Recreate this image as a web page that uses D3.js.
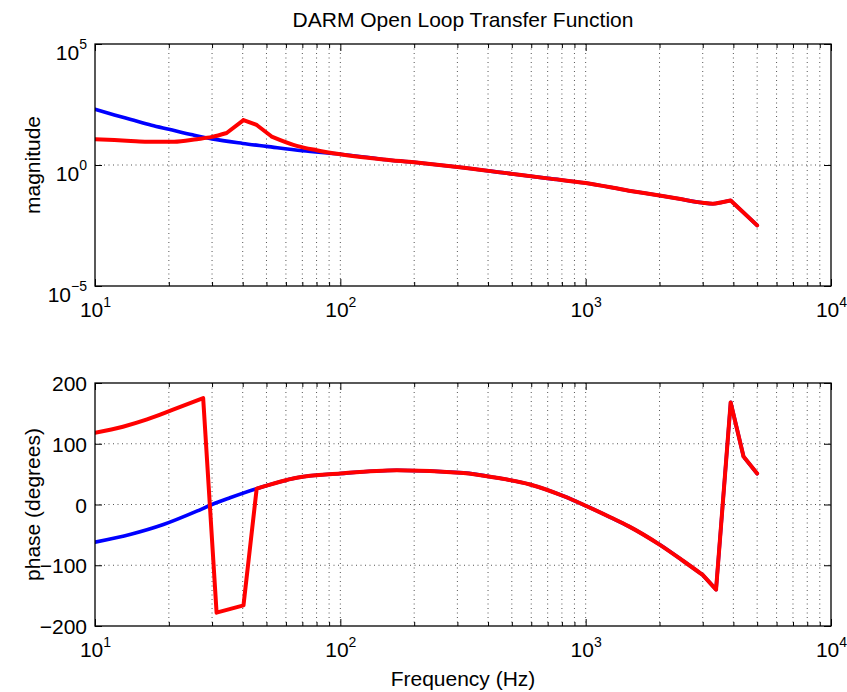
<!DOCTYPE html>
<html>
<head>
<meta charset="utf-8">
<script src="https://cdn.jsdelivr.net/npm/d3@7/dist/d3.min.js"></script>
<style>
  html, body { margin: 0; padding: 0; background: #fff; }
  svg { display: block; }
  text { font-family: "Liberation Sans", Arial, Helvetica, sans-serif; fill: #000; }
</style>
</head>
<body>
<svg id="chart" width="847" height="692"></svg>
<script>
// ---------------- DATA ----------------
const title = "DARM Open Loop Transfer Function";
const xLabel = "Frequency (Hz)";
const magLabel = "magnitude";
const phaseLabel = "phase (degrees)";

const xDecades = [10, 100, 1000, 10000];
const magTicks = [1e-5, 1e0, 1e5];
const phaseTicks = [-200, -100, 0, 100, 200];

// blue: model open loop
const blueMagFreq = [10, 12, 14, 17, 20, 25, 30, 40, 50, 70, 100, 150, 200, 300, 500, 700, 1000, 1500, 2000, 2400, 3000, 3300, 3600, 3900, 5000];
const blueMag     = [200, 117, 76, 44, 30, 17.7, 12, 7.8, 5.9, 3.9, 2.8, 1.7, 1.29, 0.83, 0.43, 0.28, 0.18, 0.087, 0.055, 0.040, 0.0275, 0.025, 0.029, 0.034, 0.0032];
const blueMagKinks = [3900];

// red: with resonance
const redMagFreq = [10, 12, 14, 16.3, 18.4, 21, 26, 30, 34.4, 40.3, 45.6, 52.5, 66.4, 80, 100, 150, 200, 300, 500, 700, 1000, 1500, 2000, 2400, 3000, 3300, 3600, 3900, 5000];
const redMag     = [11.7, 10.7, 9.8, 9.1, 9.1, 9.1, 11.7, 14.5, 21, 72, 45, 15, 6.2, 4.1, 2.8, 1.7, 1.29, 0.83, 0.43, 0.28, 0.18, 0.087, 0.055, 0.040, 0.0275, 0.025, 0.029, 0.034, 0.0032];
const redMagKinks = [34.4, 40.3, 45.6, 52.5, 3900];

const bluePhaseFreq = [10, 14, 19, 26, 30, 35.5, 45.6, 66.4, 100, 170, 317, 433, 593, 811, 1000, 1260, 1500, 2000, 2500, 3000, 3400, 3900, 4400, 5000];
const bluePhase     = [-62, -49, -33, -11, 0, 11, 26, 44, 51, 56.5, 52, 44, 33, 14, -2, -21, -36, -66, -93, -116, -140, 168, 79, 51];
const bluePhaseKinks = [3000, 3400, 3900, 4400];

const redPhaseFreq = [10, 13, 16.3, 20.8, 27.6, 31.3, 40.3, 45.6, 66.4, 100, 170, 317, 433, 593, 811, 1000, 1260, 1500, 2000, 2500, 3000, 3400, 3900, 4400, 5000];
const redPhase     = [118, 128, 140, 156, 175, -178, -166, 26, 44, 51, 56.5, 52, 44, 33, 14, -2, -21, -36, -66, -93, -116, -140, 168, 79, 51];
const redPhaseKinks = [27.6, 31.3, 40.3, 45.6, 3000, 3400, 3900, 4400];

// ---------------- LAYOUT ----------------
const FONT = 21, SUP = 14, LABEL = 21;
const L = 95, R = 831;
const top1 = 44, bot1 = 286;
const top2 = 383, bot2 = 626;

const svg = d3.select("#chart");

const x = d3.scaleLog().domain([10, 1e4]).range([L, R]);
const yMag = d3.scaleLog().domain([1e-5, 1e5]).range([bot1, top1]);
const yPh = d3.scaleLinear().domain([-200, 200]).range([bot2, top2]);

const xMinor = [];
for (let d = 10; d < 1e4; d *= 10) for (let k = 2; k <= 9; k++) xMinor.push(d * k);

function zip(f, v) { return f.map((ff, i) => [ff, v[i]]); }

// smooth path that keeps sharp corners at the given kink frequencies
function kinkedPath(data, kinks, y) {
  const line = d3.line().x(d => x(d[0])).y(d => y(d[1])).curve(d3.curveMonotoneX);
  const segs = [];
  let cur = [];
  data.forEach(p => {
    cur.push(p);
    if (kinks.includes(p[0])) { segs.push(cur); cur = [p]; }
  });
  if (cur.length > 1) segs.push(cur);
  return segs.map(s => line(s)).join("");
}

function panel(y, yTop, yBot, yGridVals, yTickVals, yFmt, series) {
  const g = svg.append("g");
  // grid
  const grid = g.append("g").attr("stroke", "#000").attr("stroke-width", 0.9)
    .attr("stroke-dasharray", "1,3.5").attr("opacity", 0.75);
  grid.selectAll("line.v").data(xMinor.concat(xDecades.slice(1, -1))).join("line")
    .attr("x1", d => x(d)).attr("x2", d => x(d)).attr("y1", yTop).attr("y2", yBot);
  grid.selectAll("line.h").data(yGridVals).join("line")
    .attr("x1", L).attr("x2", R).attr("y1", d => y(d)).attr("y2", d => y(d));

  // ticks via d3 axes (inward)
  const bMaj = g.append("g").attr("transform", `translate(0,${yBot})`)
    .call(d3.axisBottom(x).tickValues(xDecades).tickSizeInner(-7).tickSizeOuter(0).tickFormat(() => ""));
  const bMin = g.append("g").attr("transform", `translate(0,${yBot})`)
    .call(d3.axisBottom(x).tickValues(xMinor).tickSizeInner(-4).tickSizeOuter(0).tickFormat(() => ""));
  const tMaj = g.append("g").attr("transform", `translate(0,${yTop})`)
    .call(d3.axisTop(x).tickValues(xDecades).tickSizeInner(-7).tickSizeOuter(0).tickFormat(() => ""));
  const tMin = g.append("g").attr("transform", `translate(0,${yTop})`)
    .call(d3.axisTop(x).tickValues(xMinor).tickSizeInner(-4).tickSizeOuter(0).tickFormat(() => ""));
  const lMaj = g.append("g").attr("transform", `translate(${L},0)`)
    .call(d3.axisLeft(y).tickValues(yTickVals).tickSizeInner(-7).tickSizeOuter(0).tickFormat(() => ""));
  const rMaj = g.append("g").attr("transform", `translate(${R},0)`)
    .call(d3.axisRight(y).tickValues(yTickVals).tickSizeInner(-7).tickSizeOuter(0).tickFormat(() => ""));
  [bMaj, bMin, tMaj, tMin, lMaj, rMaj].forEach(a => {
    a.select(".domain").remove();
    a.selectAll(".tick line").attr("stroke", "#000").attr("stroke-width", 1);
    a.selectAll(".tick text").remove();
  });

  // x tick labels 10^n
  bMaj.selectAll(".tick").append("text")
    .attr("text-anchor", "middle").attr("y", 31).attr("font-size", FONT)
    .each(function(d) {
      const t = d3.select(this);
      t.append("tspan").text("10");
      t.append("tspan").attr("font-size", SUP).attr("dy", -10).text(Math.round(Math.log10(d)));
    });

  // y tick labels
  lMaj.selectAll(".tick").append("text")
    .attr("text-anchor", "end").attr("x", -8).attr("font-size", FONT)
    .each(function(d) { yFmt(d3.select(this), d); });

  // data lines
  const clip = "clip" + Math.round(yTop);
  svg.append("clipPath").attr("id", clip).append("rect")
    .attr("x", L).attr("y", yTop).attr("width", R - L).attr("height", yBot - yTop);
  series.forEach(s => {
    g.append("path").attr("clip-path", `url(#${clip})`)
      .attr("fill", "none").attr("stroke", s.color).attr("stroke-width", s.w)
      .attr("stroke-linejoin", "round").attr("stroke-linecap", "round")
      .attr("d", kinkedPath(s.data, s.kinks, y));
  });

  // box
  g.append("rect").attr("x", L).attr("y", yTop).attr("width", R - L).attr("height", yBot - yTop)
    .attr("fill", "none").attr("stroke", "#000").attr("stroke-width", 1.3);
  return g;
}

// magnitude panel
panel(yMag, top1, bot1, [1e0], magTicks, (t, d) => {
  t.attr("y", 15);
  t.append("tspan").text("10");
  const e = Math.round(Math.log10(d));
  t.append("tspan").attr("font-size", SUP).attr("dy", -11).text(e < 0 ? "\u2212" + (-e) : e);
}, [
  { data: zip(blueMagFreq, blueMag), kinks: blueMagKinks, color: "#0000ff", w: 3.6 },
  { data: zip(redMagFreq, redMag), kinks: redMagKinks, color: "#ff0000", w: 4 }
]);

// phase panel
panel(yPh, top2, bot2, [-100, 0, 100], phaseTicks, (t, d) => {
  t.attr("y", 7.5).text(d < 0 ? "\u2212" + (-d) : String(d));
}, [
  { data: zip(bluePhaseFreq, bluePhase), kinks: bluePhaseKinks, color: "#0000ff", w: 3.6 },
  { data: zip(redPhaseFreq, redPhase), kinks: redPhaseKinks, color: "#ff0000", w: 4 }
]);

// titles and labels
svg.append("text").attr("x", (L + R) / 2).attr("y", 27).attr("text-anchor", "middle")
  .attr("font-size", FONT).text(title);
svg.append("text").attr("x", (L + R) / 2).attr("y", 686).attr("text-anchor", "middle")
  .attr("font-size", LABEL).text(xLabel);
svg.append("text").attr("transform", `translate(40,${(top1 + bot1) / 2}) rotate(-90)`)
  .attr("text-anchor", "middle").attr("font-size", LABEL).text(magLabel);
svg.append("text").attr("transform", `translate(40,${(top2 + bot2) / 2}) rotate(-90)`)
  .attr("text-anchor", "middle").attr("font-size", LABEL).text(phaseLabel);
</script>
</body>
</html>
